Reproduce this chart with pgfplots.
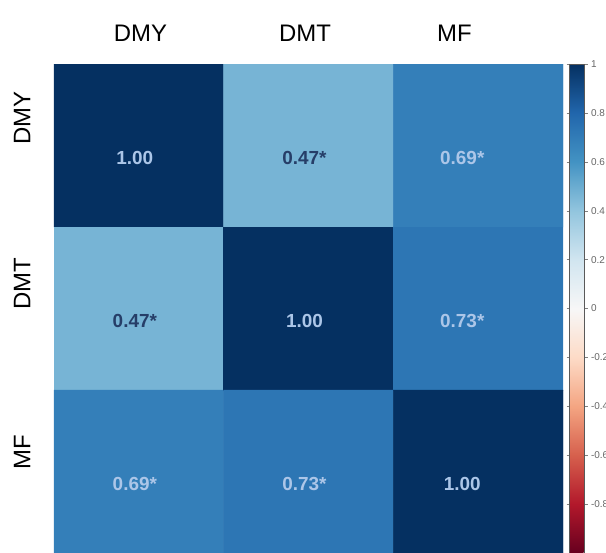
\documentclass[border=0pt]{standalone}
\usepackage{pgfplots}
\pgfplotsset{compat=1.18}
\usepackage{fontspec}
\setmainfont{Liberation Sans}
\definecolor{lighttxt}{RGB}{172,198,232}
\definecolor{darktxt}{RGB}{38,62,104}
\pgfplotstableread{
x y c
0 0 1.00
1 0 0.47
2 0 0.69
0 1 0.47
1 1 1.00
2 1 0.73
0 2 0.69
1 2 0.73
2 2 1.00
}\corrdata
\pgfplotstableread{
x y lab
0 0 1.00
1.93 0 0.69*
1 1 1.00
1.93 1 0.73*
0 2 0.69*
1 2 0.73*
1.93 2 1.00
}\lightlabels
\pgfplotstableread{
x y lab
1 0 0.47*
0 1 0.47*
}\darklabels
\begin{document}
\begin{tikzpicture}
\useasboundingbox (0,0) rectangle (606bp,553bp);
\begin{axis}[
  at={(54bp,0bp)}, anchor=south west,
  scale only axis, width=509bp, height=489bp,
  xmin=-0.5, xmax=2.5, ymin=-0.5, ymax=2.5,
  y dir=reverse,
  axis line style={draw=none},
  xtick={0.01,0.98,1.86}, ytick={-0.17,0.85,1.88},
  xticklabels={DMY,DMT,MF}, yticklabels={DMY,DMT,MF},
  xticklabel pos=top,
  major tick length=0pt,
  xticklabel style={font=\fontsize{24}{28}\selectfont, yshift=19bp},
  yticklabel style={font=\fontsize{24}{28}\selectfont, rotate=90, anchor=south, yshift=20bp},
  colormap={rdbu}{rgb255=(103,0,31) rgb255=(178,24,43) rgb255=(214,96,77) rgb255=(244,165,130) rgb255=(253,219,199) rgb255=(247,247,247) rgb255=(209,229,240) rgb255=(146,197,222) rgb255=(67,147,195) rgb255=(33,102,172) rgb255=(5,48,97)},
  point meta min=-1, point meta max=1,
  colorbar right,
  colorbar style={
    at={(parent axis.north east)}, anchor=north west, xshift=-2bp,
    width=15bp, height=489bp,
    ytick={-0.8,-0.6,-0.4,-0.2,0,0.2,0.4,0.6,0.8,1},
    yticklabel style={font=\fontsize{10}{11}\selectfont, text=gray!80!black, /pgf/number format/assume math mode=true, xshift=0bp},
    major tick length=3bp, tick align=outside,
    tick style={gray},
    axis line style={draw=gray!70!black, line width=0.8pt},
  },
]
\addplot[matrix plot*, mesh/cols=3, point meta=explicit, draw=none] table[x=x, y=y, meta=c] {\corrdata};
\addplot[only marks, mark=none, point meta=explicit symbolic,
  nodes near coords, nodes near coords align={center},
  every node near coord/.append style={font=\bfseries\fontsize{19}{22}\selectfont, text=lighttxt, anchor=center, yshift=-12bp, xshift=-4bp}]
  table[x=x, y=y, meta=lab] {\lightlabels};
\addplot[only marks, mark=none, point meta=explicit symbolic,
  nodes near coords, nodes near coords align={center},
  every node near coord/.append style={font=\bfseries\fontsize{19}{22}\selectfont, text=darktxt, anchor=center, yshift=-12bp, xshift=-4bp}]
  table[x=x, y=y, meta=lab] {\darklabels};
\end{axis}
\end{tikzpicture}
\end{document}
